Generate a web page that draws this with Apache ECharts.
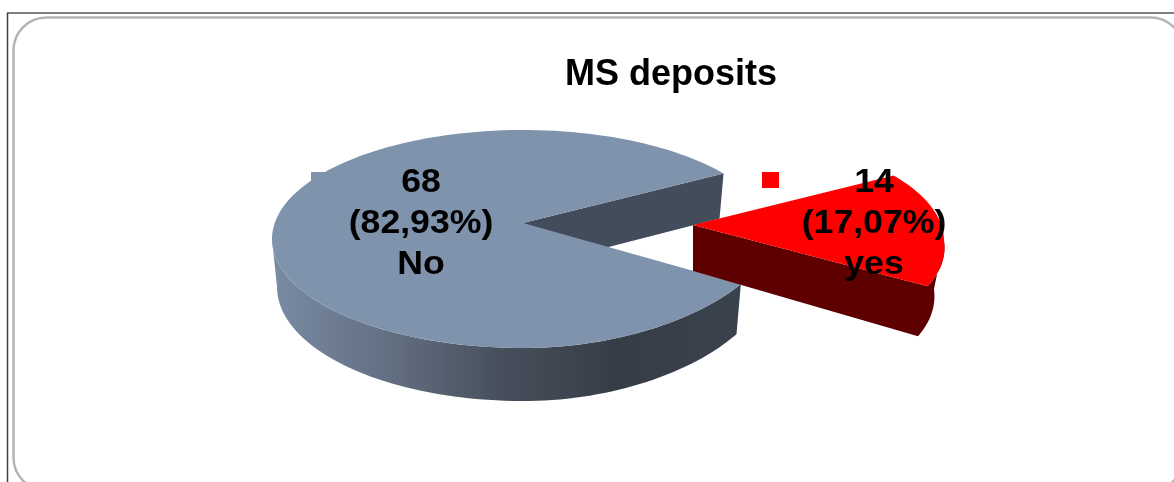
<!DOCTYPE html>
<html>
<head>
<meta charset="utf-8">
<title>MS deposits</title>
<script src="https://cdn.jsdelivr.net/npm/echarts@6/dist/echarts.min.js"></script>
<style>
  html, body { margin: 0; padding: 0; background: #fff; }
  #chart { width: 1174px; height: 482px; }
</style>
</head>
<body>
<div id="chart"></div>
<script>
  var chartTitle = 'MS deposits';
  var categories = ['No', 'yes'];
  var counts = [68, 14];
  var percents = ['82,93%', '17,07%'];

  var FONT = '"Liberation Sans", Arial, sans-serif';
  var START_ANGLE = 24.5;   // ellipse angle where the first slice begins
  var RX = 251, RY = 109;

  // one drawing setup per slice, same order as categories
  var sliceStyles = [
    {
      cx: 523, cy: 239, apexY: 223,
      squeeze: 14,          // lower right of the big slice sits a bit inside the ellipse
      inset: 0.98,
      top: '#7f93ad',
      inner: '#434c5a',
      wall: new echarts.graphic.LinearGradient(272, 0, 740, 0, [
        { offset: 0, color: '#7a8ba3' },
        { offset: 0.26, color: '#616e80' },
        { offset: 0.49, color: '#474f5c' },
        { offset: 0.74, color: '#363d47' },
        { offset: 1, color: '#3a424d' }
      ], true),
      key: [311, 172, 19, 18],
      label: [421, 224]
    },
    {
      cx: 693, cy: 241, apexY: 225,
      squeeze: -8,
      inset: 0.96,
      top: '#ff0000',
      wall: '#5e0000',
      key: [762, 172, 17, 16],
      label: [874, 224]
    }
  ];

  function topPoint(s, deg) {
    var t = deg * Math.PI / 180;
    var x = s.cx + RX * Math.cos(t);
    if (Math.sin(t) > 0 && Math.cos(t) > 0) {
      x -= s.squeeze * Math.sin(2 * t);
    }
    return [x, s.cy + RY * Math.sin(t)];
  }

  // wall foot under a rim point: a little inward, deeper towards the viewer
  function footPoint(s, p, deg) {
    var t = deg * Math.PI / 180;
    return [s.cx + (p[0] - s.cx) * s.inset, p[1] + 48 + 5 * Math.sin(t)];
  }

  function arc(from, to) {
    var pts = [];
    var n = Math.max(2, Math.ceil(Math.abs(to - from) / 2));
    for (var i = 0; i <= n; i++) {
      pts.push(from + (to - from) * i / n);
    }
    return pts;
  }

  function polygon(points, fill) {
    return { type: 'polygon', shape: { points: points }, style: { fill: fill, stroke: null } };
  }

  function renderSlice(params, api) {
    var total = counts.reduce(function (a, b) { return a + b; }, 0);
    var before = 0;
    for (var i = 0; i < params.dataIndex; i++) before += counts[i];
    var s = sliceStyles[params.dataIndex];
    var from = START_ANGLE + before / total * 360;
    var to = from + api.value(0) / total * 360;

    var apex = [s.cx, s.apexY];
    var apexFoot = [s.cx, s.apexY + 46];
    var rim = arc(from, to).map(function (d) { return topPoint(s, d); });
    var children = [];

    if (params.dataIndex === 0) {
      // the back cut face shows through the gap, the front rim wall runs to the left edge
      var endTop = topPoint(s, to);
      children.push(polygon([apex, endTop, footPoint(s, endTop, to), apexFoot], s.inner));
      var wallDegs = arc(from, 180);
      var wallTop = wallDegs.map(function (d) { return topPoint(s, d); });
      var wallFoot = wallDegs.map(function (d) { return footPoint(s, topPoint(s, d), d); }).reverse();
      children.push(polygon(wallTop.concat(wallFoot), s.wall));
    } else {
      // exploded slice: front cut face and rim wall are one flat dark shape
      var degs = arc(to, 360);
      var top2 = degs.map(function (d) { return topPoint(s, d); });
      var foot2 = degs.map(function (d) { return footPoint(s, topPoint(s, d), d); }).reverse();
      children.push(polygon([apex].concat(top2, foot2, [apexFoot]), s.wall));
    }

    children.push(polygon([apex].concat(rim), s.top));

    children.push({
      type: 'rect',
      shape: { x: s.key[0], y: s.key[1], width: s.key[2], height: s.key[3] },
      style: { fill: s.top }
    });
    children.push({
      type: 'text',
      x: s.label[0],
      y: s.label[1],
      scaleX: 1.08,
      style: {
        text: api.value(0) + '\n(' + percents[params.dataIndex] + ')\n' + categories[params.dataIndex],
        font: 'bold 33px ' + FONT,
        fill: '#000',
        align: 'center',
        verticalAlign: 'middle',
        lineHeight: 41
      }
    });
    return { type: 'group', children: children };
  }

  var myChart = echarts.init(document.getElementById('chart'));
  myChart.setOption({
    animation: false,
    backgroundColor: '#fff',
    title: {
      text: chartTitle,
      left: 666,
      top: 52,
      textAlign: 'center',
      textStyle: { fontFamily: FONT, fontWeight: 'bold', fontSize: 36, color: '#000' }
    },
    graphic: [
      { type: 'line', z: 0, shape: { x1: 7, y1: 13, x2: 1174, y2: 13 }, style: { stroke: '#808080', lineWidth: 2 } },
      { type: 'line', z: 0, shape: { x1: 7.5, y1: 13, x2: 7.5, y2: 482 }, style: { stroke: '#404040', lineWidth: 1.5 } },
      { type: 'rect', z: 0, shape: { x: 13.5, y: 17.5, width: 1170, height: 473, r: 33 }, style: { fill: '#fff', stroke: '#b4b4b4', lineWidth: 2.5 } }
    ],
    series: [{
      type: 'custom',
      coordinateSystem: 'none',
      z: 5,
      renderItem: renderSlice,
      data: counts.map(function (c, i) { return { name: categories[i], value: [c] }; })
    }]
  });
  window.addEventListener('resize', myChart.resize);
</script>
</body>
</html>
